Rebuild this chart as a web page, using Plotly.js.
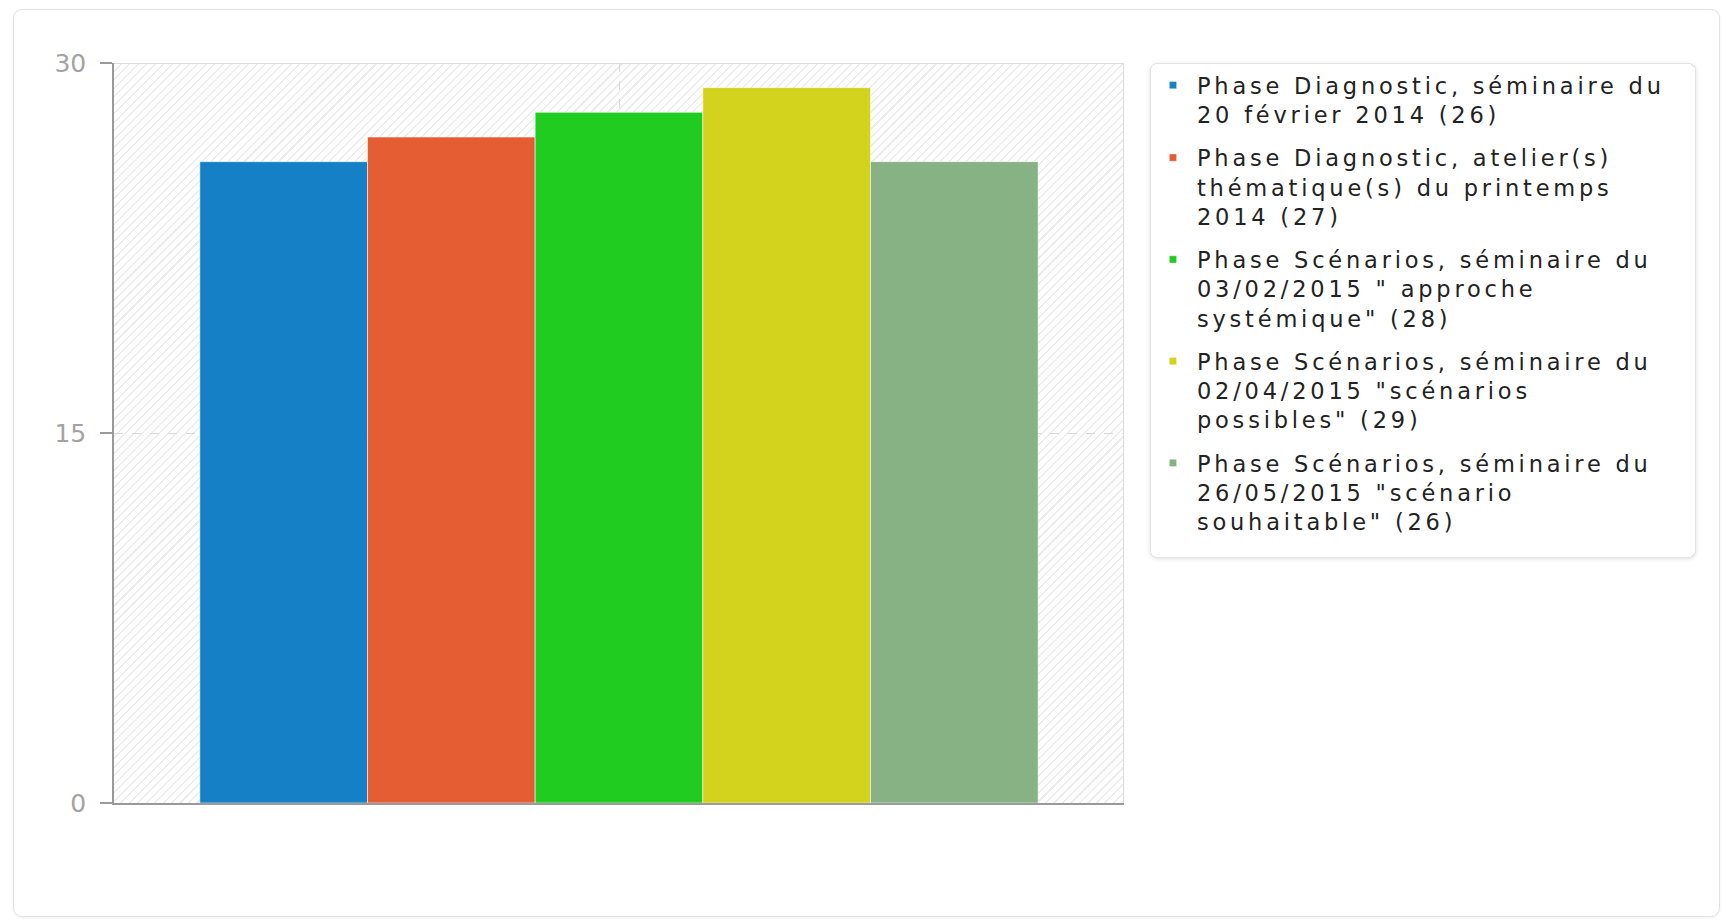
<!DOCTYPE html>
<html>
<head>
<meta charset="utf-8">
<script src="https://cdn.plot.ly/plotly-3.0.1.min.js"></script>
<style>
  html, body { margin: 0; padding: 0; background: #ffffff; }
  #frame {
    position: absolute; left: 13px; top: 9px; width: 1707px; height: 908px;
    border: 1px solid #e2e2e2; border-radius: 9px; box-sizing: border-box;
    box-shadow: 0 1px 3px rgba(0,0,0,0.06);
  }
  #hatch {
    position: absolute; left: 114px; top: 63px; width: 1010px; height: 740px;
    box-sizing: border-box;
    border-top: 1px solid #dcdcdc; border-right: 1px solid #dcdcdc;
    background: repeating-linear-gradient(135deg, #ffffff 0px, #ffffff 4.5px, #ededed 4.5px, #ededed 6px);
  }
  #chart { position: absolute; left: 0; top: 0; width: 1731px; height: 922px; }
  text.legendtext { letter-spacing: 3.8px; }
  #chart .legend rect.bg { width: 545px; height: 494px; rx: 7px; ry: 7px; filter: drop-shadow(0px 1px 2px rgba(0,0,0,0.12)); }
  #chart .legendpoints path { transform: translate(22px, 0px) scale(0.6); }
</style>
</head>
<body>
<div id="frame"></div>
<div id="hatch"></div>
<div id="chart"></div>
<script>
// ---- data ----
const categories = ["Participants"];
const seriesNames = [
  "Phase Diagnostic, séminaire du<br>20 février 2014 (26)",
  "Phase Diagnostic, atelier(s)<br>thématique(s) du printemps<br>2014 (27)",
  "Phase Scénarios, séminaire du<br>03/02/2015 \" approche<br>systémique\" (28)",
  "Phase Scénarios, séminaire du<br>02/04/2015 \"scénarios<br>possibles\" (29)",
  "Phase Scénarios, séminaire du<br>26/05/2015 \"scénario<br>souhaitable\" (26)"
];
const seriesValues = [26, 27, 28, 29, 26];
const seriesColors = ["#1580c5", "#e55e33", "#21cc21", "#d3d21d", "#87b283"];
const yTickVals = [0, 15, 30];
const yTickText = ["0", "15", "30"];

// ---- traces ----
const traces = seriesNames.map((name, i) => ({
  type: "bar",
  name: name,
  x: categories,
  y: [seriesValues[i]],
  legendgroup: "g" + i,
  marker: { color: seriesColors[i], line: { width: 1, color: "rgba(255,255,255,0.55)" } },
  hoverinfo: "y+name"
}));

const layout = {
  width: 1731,
  height: 922,
  margin: { l: 114, r: 607, t: 63, b: 119, pad: 0 },
  paper_bgcolor: "rgba(0,0,0,0)",
  plot_bgcolor: "rgba(0,0,0,0)",
  barmode: "group",
  bargap: 0.17,
  bargroupgap: 0,
  font: { family: "DejaVu Sans", color: "#222" },
  xaxis: {
    type: "category",
    showticklabels: false,
    ticks: "",
    showgrid: true,
    gridcolor: "#d9d9d9",
    griddash: "dash",
    gridwidth: 1,
    showline: true,
    linecolor: "#9a9a9a",
    linewidth: 1.5,
    zeroline: false,
    fixedrange: true
  },
  yaxis: {
    range: [0, 30],
    tickvals: yTickVals,
    ticktext: yTickText,
    ticks: "outside",
    ticklen: 12,
    tickwidth: 1.5,
    tickcolor: "#9a9a9a",
    ticklabelstandoff: 9,
    tickfont: { family: "DejaVu Sans", size: 25, color: "#a3a3a3" },
    showgrid: true,
    gridcolor: "#d9d9d9",
    griddash: "dash",
    gridwidth: 1,
    showline: true,
    linecolor: "#9a9a9a",
    linewidth: 1.5,
    zeroline: false,
    fixedrange: true
  },
  showlegend: true,
  legend: {
    x: 1.0257,
    xanchor: "left",
    y: 1,
    yanchor: "top",
    bgcolor: "#ffffff",
    bordercolor: "#e4e4e4",
    borderwidth: 1,
    font: { family: "DejaVu Sans", size: 22.5, color: "#222222" },
    valign: "top",
    traceorder: "grouped",
    tracegroupgap: 11,
    itemwidth: 36,
    itemclick: false,
    itemdoubleclick: false
  }
};

Plotly.newPlot("chart", traces, layout, { displayModeBar: false });
</script>
</body>
</html>
